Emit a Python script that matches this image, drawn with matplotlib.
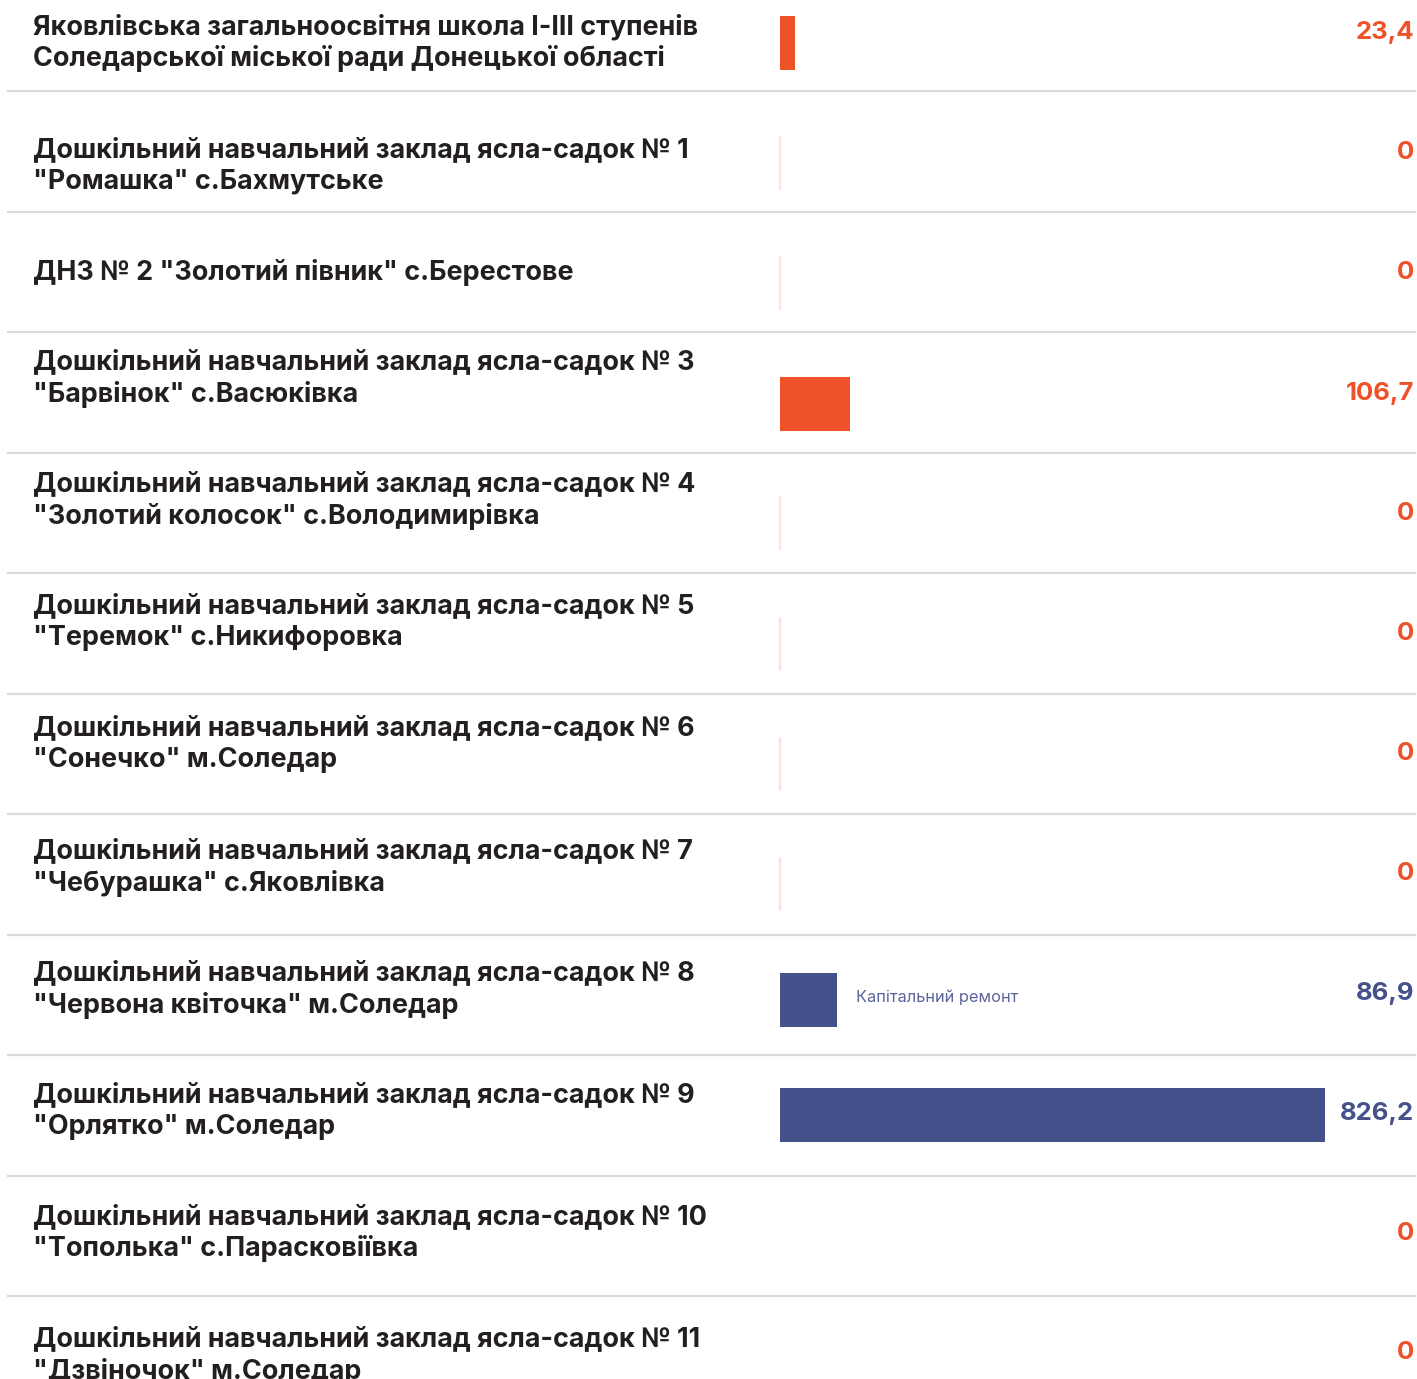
import numpy as np
import matplotlib
matplotlib.use("Agg")
from matplotlib import pyplot as plt
from matplotlib.transforms import blended_transform_factory

plt.rcParams['font.family'] = ['Inter', 'DejaVu Sans']

# data
names = [
    'Яковлівська загальноосвітня школа І-ІІІ ступенів\nСоледарської міської ради Донецької області',
    'Дошкільний навчальний заклад ясла-садок № 1\n"Ромашка" с.Бахмутське',
    'ДНЗ № 2 "Золотий півник" с.Берестове',
    'Дошкільний навчальний заклад ясла-садок № 3\n"Барвінок" с.Васюківка',
    'Дошкільний навчальний заклад ясла-садок № 4\n"Золотий колосок" с.Володимирівка',
    'Дошкільний навчальний заклад ясла-садок № 5\n"Теремок" с.Никифоровка',
    'Дошкільний навчальний заклад ясла-садок № 6\n"Сонечко" м.Соледар',
    'Дошкільний навчальний заклад ясла-садок № 7\n"Чебурашка" с.Яковлівка',
    'Дошкільний навчальний заклад ясла-садок № 8\n"Червона квіточка" м.Соледар',
    'Дошкільний навчальний заклад ясла-садок № 9\n"Орлятко" м.Соледар',
    'Дошкільний навчальний заклад ясла-садок № 10\n"Тополька" с.Парасковіївка',
    'Дошкільний навчальний заклад ясла-садок № 11\n"Дзвіночок" м.Соледар',
]
values = [23.4, 0, 0, 106.7, 0, 0, 0, 0, 86.9, 826.2, 0, 0]
value_labels = ['23,4', '0', '0', '106,7', '0', '0', '0', '0', '86,9', '826,2', '0', '0']
kind = ['current', 'current', 'current', 'current', 'current', 'current', 'current', 'current',
        'capital', 'capital', 'current', 'current']
legend_text = 'Капітальний ремонт'

colors = {'current': '#ee5229', 'capital': '#45518b'}

# layout (pixels)
W, H = 1417, 1379
pitch = 120.5
x0_px, full_px = 780, 545  # value 0 and value 826.2
scale = full_px / max(values)
label_y = [24, 147, 269, 359, 481, 603, 725, 848, 970, 1092, 1214, 1336]
value_y = [30, 150, 270, 391, 511, 631, 751, 871, 991, 1111, 1231, 1350]
bar_y = [43, 163, 283, 404, 523, 644, 764, 884, 1000, 1114.5, 1244, 1364]
line_gap = 32


def row(px):
    return (px - 30.75) / pitch


fig = plt.figure(figsize=(W / 100, H / 100), dpi=100)
ax = fig.add_axes([0, 0, 1, 1])
ax.set_xlim(-x0_px / scale, (W - x0_px) / scale)
ax.set_ylim(row(H), row(0))
ax.axis('off')

tr = blended_transform_factory(ax.transAxes, ax.transData)

n = len(values)
bar_pos = [row(p) for p in bar_y]
bar_h = 54 / pitch
for i in range(n):
    c = colors[kind[i]]
    if values[i] > 0:
        ax.barh(bar_pos[i], values[i], height=bar_h, left=0, color=c, linewidth=0)
    elif i < 8:
        ax.vlines(0, bar_pos[i] - bar_h / 2, bar_pos[i] + bar_h / 2, color='#fde3dc', lw=1.5)
    ax.text(1414 / W, row(value_y[i]), value_labels[i], transform=tr, ha='right',
            va='center_baseline', fontsize=18.5, fontweight='bold', color=c)
    for k, line in enumerate(names[i].split('\n')):
        ax.text(33 / W, row(label_y[i] + k * line_gap), line, transform=tr, ha='left',
                va='center_baseline', fontsize=19.4, fontweight='bold', color='#231f20')
    if i < n - 1:
        ax.plot([8 / W, 1415 / W], [i + 0.5, i + 0.5], transform=tr, color='#dadada', lw=1.6)

ax.text(856 / W, row(996), legend_text, transform=tr, ha='left', va='center_baseline',
        fontsize=11.8, color='#5b649b')

fig.savefig('out.png', dpi=100)
